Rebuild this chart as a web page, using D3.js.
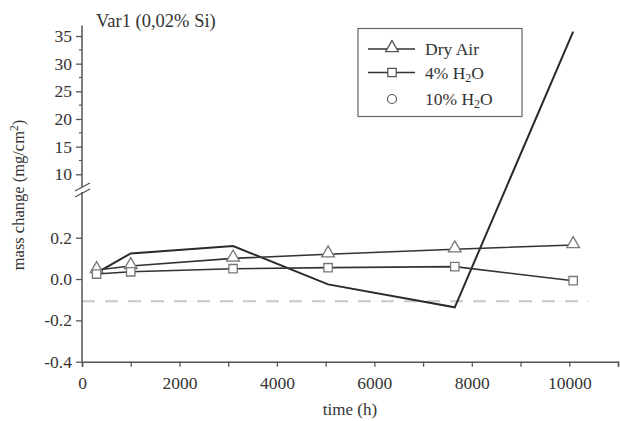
<!DOCTYPE html>
<html><head><meta charset="utf-8">
<script src="https://cdn.jsdelivr.net/npm/d3@7"></script>
<style>body{margin:0;background:#fff}svg{display:block}</style>
</head><body><svg id="c" width="620" height="421"></svg>
<script>
const times = [300, 1000, 3100, 5050, 7650, 10080];
const dryAir = [0.044, 0.063, 0.10, 0.12, 0.144, 0.165];
const h2o4 = [0.024, 0.035, 0.05, 0.055, 0.06, -0.008];
const h2o10 = [0.03, 0.124, 0.16, -0.026, -0.137, 35.8];
const xTicks = [0, 2000, 4000, 6000, 8000, 10000];
const yLowTicks = [-0.4, -0.2, 0.0, 0.2];
const yHighTicks = [10, 15, 20, 25, 30, 35];
const legendNames = ["Dry Air", "4% H2O", "10% H2O"];

const FONT = "'Liberation Serif','DejaVu Serif','Noto Serif',serif";
const svg = d3.select("#c");
const x = d3.scaleLinear([0, 11000], [82, 618]);
const yLow = d3.scaleLinear([-0.4, 0.2], [361.7, 237.7]);
const yHigh = d3.scaleLinear([10, 35], [174.3, 36]);
const y = v => v > 5 ? yHigh(v) : yLow(v);
const axisCol = "#555";

// dashed reference line
svg.append("line").attr("x1", x(0)).attr("x2", x(10400))
  .attr("y1", yLow(-0.107)).attr("y2", yLow(-0.107))
  .attr("stroke", "#c8c8c8").attr("stroke-width", 2).attr("stroke-dasharray", "13,10");

// x axis
const gx = svg.append("g").attr("transform", `translate(0,${yLow(-0.4)})`)
  .call(d3.axisBottom(x).tickValues(d3.range(0, 11001, 1000)).tickSize(5)
    .tickFormat(d => xTicks.includes(d) ? d : ""));
gx.select(".domain").attr("stroke", axisCol).attr("stroke-width", 1.5);
gx.selectAll(".tick line").attr("stroke", axisCol).attr("stroke-width", 1.3);
gx.selectAll("text").attr("dy", "1.1em");

// y axis line (continuous)
svg.append("line").attr("x1", 82).attr("x2", 82).attr("y1", yHigh(36.9)).attr("y2", yLow(-0.4))
  .attr("stroke", axisCol).attr("stroke-width", 1.5);

// low ticks
const gyl = svg.append("g").attr("transform", "translate(82,0)")
  .call(d3.axisLeft(yLow).tickValues(yLowTicks).tickSize(6).tickPadding(4).tickFormat(d => d.toFixed(1)));
gyl.select(".domain").remove();
gyl.selectAll(".tick line").attr("stroke", axisCol).attr("stroke-width", 1.3);

// high ticks
const gyh = svg.append("g").attr("transform", "translate(82,0)")
  .call(d3.axisLeft(yHigh).tickValues(yHighTicks).tickSize(6).tickPadding(4));
gyh.select(".domain").remove();
gyh.selectAll(".tick line").attr("stroke", axisCol).attr("stroke-width", 1.3);
svg.append("g").selectAll("line").data([12.5, 17.5, 22.5, 27.5, 32.5]).join("line")
  .attr("x1", 79).attr("x2", 82).attr("y1", d => yHigh(d)).attr("y2", d => yHigh(d))
  .attr("stroke", axisCol).attr("stroke-width", 1.2);

[gx, gyl, gyh].forEach(g => g.attr("font-family", FONT).attr("font-size", 17.5)
  .selectAll("text").attr("fill", "#333"));

// break marks
svg.append("rect").attr("x", 80).attr("y", 187).attr("width", 4).attr("height", 5).attr("fill", "#fff");
[187, 193].forEach(yy => {
  svg.append("line").attr("x1", 75).attr("x2", 90).attr("y1", yy + 4).attr("y2", yy - 4)
    .attr("stroke", axisCol).attr("stroke-width", 1.4);
});

// lines
const line = d3.line().x(d => x(d[0])).y(d => y(d[1]));
svg.append("path").datum(times.map((t, i) => [t, h2o10[i]])).attr("d", line)
  .attr("fill", "none").attr("stroke", "#2a2a2a").attr("stroke-width", 2);
svg.append("path").datum(times.map((t, i) => [t, dryAir[i]])).attr("d", line)
  .attr("fill", "none").attr("stroke", "#333").attr("stroke-width", 1.6);
svg.append("path").datum(times.map((t, i) => [t, h2o4[i]])).attr("d", line)
  .attr("fill", "none").attr("stroke", "#333").attr("stroke-width", 1.6);

const tri = d3.symbol(d3.symbolTriangle, 70);
const sq = d3.symbol(d3.symbolSquare, 70);
svg.append("g").selectAll("path").data(times.map((t, i) => [t, dryAir[i]])).join("path")
  .attr("d", tri).attr("transform", d => `translate(${x(d[0])},${y(d[1]) - 1})`)
  .attr("fill", "#fff").attr("stroke", "#777").attr("stroke-width", 1.3);
svg.append("g").selectAll("path").data(times.map((t, i) => [t, h2o4[i]])).join("path")
  .attr("d", sq).attr("transform", d => `translate(${x(d[0])},${y(d[1])})`)
  .attr("fill", "#fff").attr("stroke", "#777").attr("stroke-width", 1.3);

// title
svg.append("text").attr("x", 96).attr("y", 27).attr("font-size", 18.5).attr("font-family", FONT)
  .attr("fill", "#333").text("Var1 (0,02% Si)");

// legend
svg.append("rect").attr("x", 358).attr("y", 28.5).attr("width", 164).attr("height", 88)
  .attr("fill", "#fff").attr("stroke", "#666").attr("stroke-width", 1.2);
const ly = [49, 72.5, 99];
[0, 1].forEach(i => {
  svg.append("line").attr("x1", 368).attr("x2", 415).attr("y1", ly[i]).attr("y2", ly[i])
    .attr("stroke", "#333").attr("stroke-width", 1.6);
});
svg.append("path").attr("d", tri).attr("transform", `translate(392,${ly[0] - 1})`)
  .attr("fill", "#fff").attr("stroke", "#555").attr("stroke-width", 1.3);
svg.append("path").attr("d", sq).attr("transform", `translate(392,${ly[1]})`)
  .attr("fill", "#fff").attr("stroke", "#555").attr("stroke-width", 1.3);
svg.append("circle").attr("cx", 392).attr("cy", ly[2]).attr("r", 4.5)
  .attr("fill", "#fff").attr("stroke", "#555").attr("stroke-width", 1.2);
legendNames.forEach((n, i) => {
  const t = svg.append("text").attr("x", 425).attr("y", ly[i] + 6).attr("font-size", 17.5)
    .attr("font-family", FONT).attr("fill", "#333");
  if (n.endsWith("H2O")) {
    t.append("tspan").text(n.slice(0, -2));
    t.append("tspan").attr("font-size", 12).attr("dy", 3).text("2");
    t.append("tspan").attr("dy", -3).text("O");
  } else t.text(n);
});

// axis labels
svg.append("text").attr("x", x(5500)).attr("y", 415).attr("text-anchor", "middle")
  .attr("font-size", 17).attr("font-family", FONT).attr("fill", "#333").text("time (h)");
const yl = svg.append("text").attr("transform", "translate(24,195) rotate(-90)")
  .attr("text-anchor", "middle").attr("font-size", 16.5).attr("font-family", FONT).attr("fill", "#333");
yl.append("tspan").text("mass change (mg/cm");
yl.append("tspan").attr("font-size", 11.5).attr("dy", -6).text("2");
yl.append("tspan").attr("dy", 6).text(")");
</script></body></html>
